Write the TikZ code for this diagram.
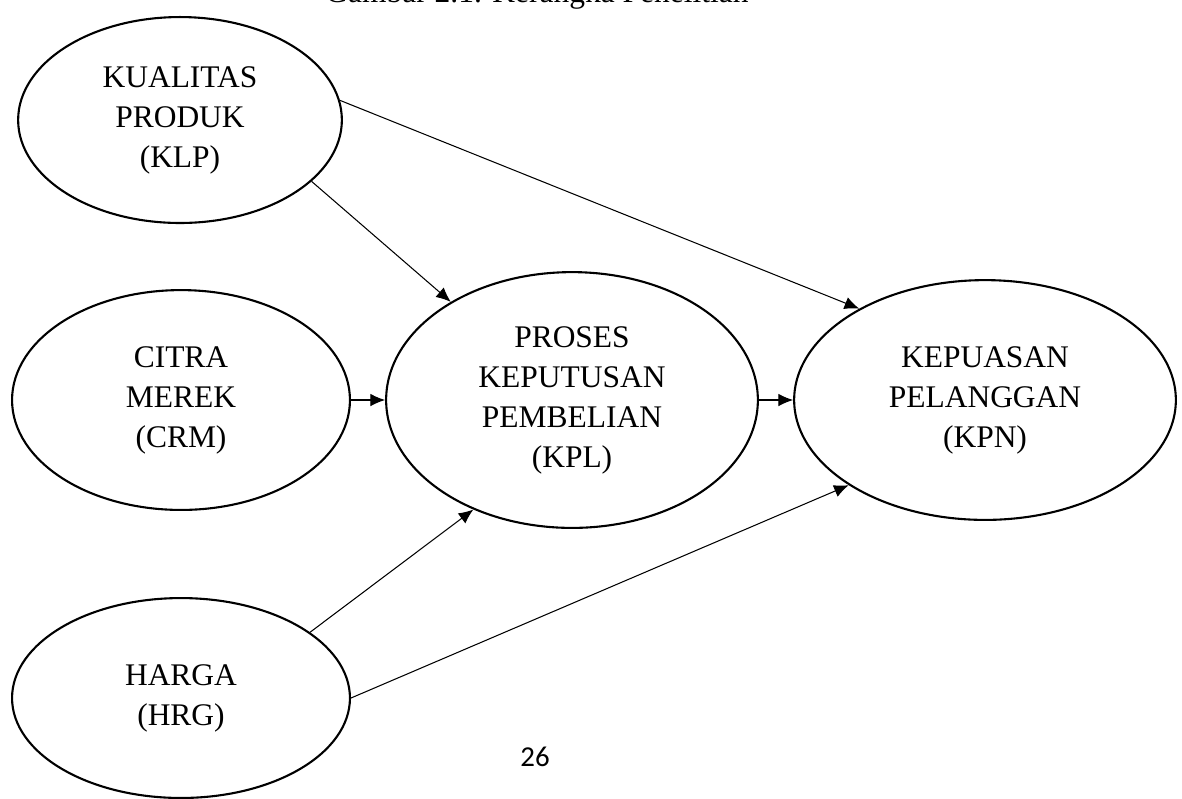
\documentclass[tikz,border=0pt]{standalone}
\usepackage{fontspec}
\setmainfont{Liberation Serif}
\newfontfamily\pagenumfont{Carlito}
\usetikzlibrary{shapes.geometric,arrows.meta}

\begin{document}
\begin{tikzpicture}[x=0.01339cm, y=-0.01339cm]

\tikzset{construct/.style = {shape=ellipse,draw,line width=0.8pt,inner sep=0pt,align=center,font=\fontsize{12}{15.24}\selectfont}}
\tikzset{edge/.style = {->,> = {Latex[length=5.6pt,width=4.8pt]},line width=0.4pt}}
\useasboundingbox (0,0) rectangle (1182,798);
% title and page number
\node[anchor=base,font=\fontsize{12}{14}\selectfont] (title) at (537,2.5) {Gambar 2.1. Kerangka Penelitian};
\node[anchor=base,font=\pagenumfont\fontsize{11}{13}\selectfont] (page) at (535,766) {26};
% vertices
\node[construct,minimum width=123.4pt,minimum height=78.5pt] (klp) at (180,120) {KUALITAS\\PRODUK\\(KLP)};
\node[construct,minimum width=128.8pt,minimum height=83.8pt] (crm) at (181,400) {CITRA\\MEREK\\(CRM)};
\node[construct,minimum width=128.8pt,minimum height=76.2pt] (hrg) at (181,698) {HARGA\\(HRG)};
\node[construct,minimum width=141.7pt,minimum height=97.5pt] (kpl) at (572,400) {PROSES\\KEPUTUSAN\\PEMBELIAN\\(KPL)};
\node[construct,minimum width=145.5pt,minimum height=91.4pt] (kpn) at (985,400) {KEPUASAN\\PELANGGAN\\(KPN)};
%edges
\begin{scope}[every path/.style={edge}]
       \draw (klp.-25) -- (kpl.141);
       \draw (klp.7) -- (kpn.144);
       \draw (crm) -- (kpl);
       \draw (kpl) -- (kpn);
       \draw (hrg.27) -- (kpl.-132);
       \draw (hrg.0) -- (kpn.212);
\end{scope}

\end{tikzpicture}
\end{document}
